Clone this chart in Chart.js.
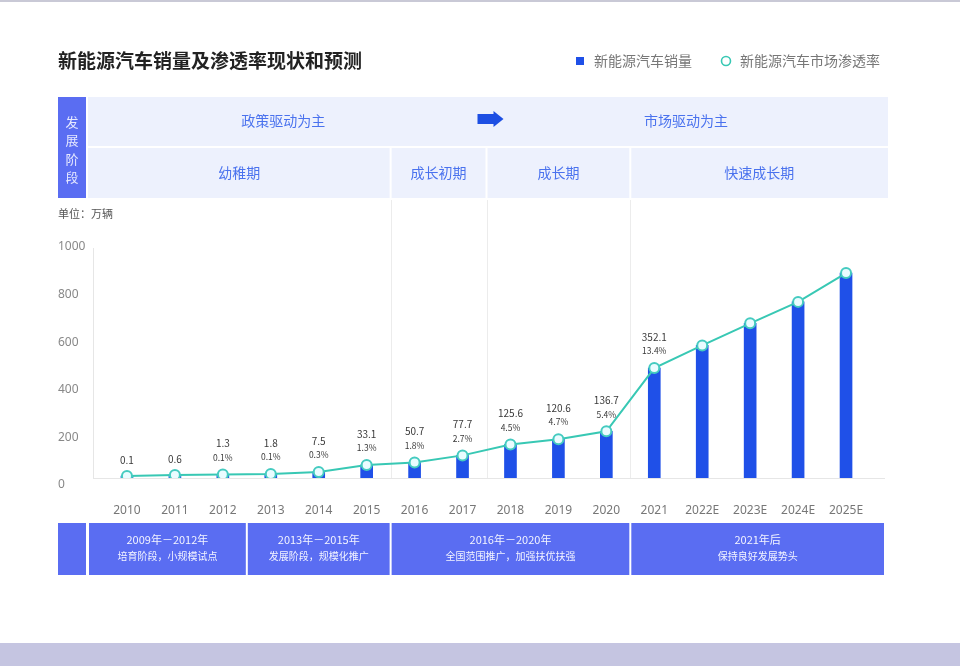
<!DOCTYPE html>
<html>
<head>
<meta charset="utf-8">
<script src="https://cdn.jsdelivr.net/npm/chart.js@4.4.1/dist/chart.umd.min.js"></script>
<style>
  html, body { margin:0; padding:0; background:#ffffff; }
  #wrap { position:absolute; left:0; top:0; width:960px; height:666px; background:#ffffff; overflow:hidden; }
  #topline { position:absolute; left:0; top:0; width:960px; height:2px; background:#c9c9d6; }
  #bottomstrip { position:absolute; left:0; top:643px; width:960px; height:23px; background:#c5c5e1; }
  canvas { position:absolute; left:0; top:0; }
</style>
</head>
<body>
<div id="wrap">
  <div id="topline"></div>
  <div id="bottomstrip"></div>
  <canvas id="c" width="960" height="666"></canvas>
</div>
<script>
// ---- data ----
const categories = ['2010','2011','2012','2013','2014','2015','2016','2017','2018','2019','2020','2021','2022E','2023E','2024E','2025E'];
// bar heights as drawn in the picture (axis units)
const barHeights = [8, 13, 15, 17, 25, 55, 65, 95, 141, 163, 196, 462, 557, 650, 740, 861];
// penetration line points, sitting on the bar tops in the picture
const linePoints = [8, 13, 15, 17, 25, 55, 65, 95, 141, 163, 196, 462, 557, 650, 740, 861];
// printed value labels
const salesLabels = ['0.1','0.6','1.3','1.8','7.5','33.1','50.7','77.7','125.6','120.6','136.7','352.1','','','',''];
const penetrationLabels = ['','','0.1%','0.1%','0.3%','1.3%','1.8%','2.7%','4.5%','4.7%','5.4%','13.4%','','','',''];
const yTicks = [0, 200, 400, 600, 800, 1000];

const titleText = '新能源汽车销量及渗透率现状和预测';
const legendNames = ['新能源汽车销量', '新能源汽车市场渗透率'];
const unitText = '单位：万辆';
const sideLabel = ['发','展','阶','段'];
const driverNames = ['政策驱动为主', '市场驱动为主'];
const stageNames = ['幼稚期', '成长初期', '成长期', '快速成长期'];
const stageBreaks = [5.5, 7.5, 10.5];
const phaseYears = ['2009年－2012年', '2013年－2015年', '2016年－2020年', '2021年后'];
const phaseDescs = ['培育阶段，小规模试点', '发展阶段，规模化推广', '全国范围推广，加强扶优扶强', '保持良好发展势头'];
const phaseBreaks = [2.5, 5.5, 10.5];

const FONT = "'Noto Sans CJK SC', 'Noto Sans', sans-serif";
Chart.defaults.font.family = FONT;

const BAR_COLOR = '#1f50e8';
const LINE_COLOR = '#38c8b4';
const BAND_BG = '#edf1fd';
const BAND_TEXT = '#4a72ee';
const DARK_BAND = '#5a6df2';

const deco = {
  id: 'deco',
  beforeDraw(chart) {
    const ctx = chart.ctx, xs = chart.scales.x, ca = chart.chartArea;
    const bx = v => (xs.getPixelForValue(Math.floor(v)) + xs.getPixelForValue(Math.ceil(v))) / 2;
    const L = ca.left - 15, R = ca.right + 18;
    ctx.save();
    // title
    ctx.fillStyle = '#222';
    ctx.font = "bold 19px " + FONT;
    ctx.textBaseline = 'middle';
    ctx.textAlign = 'left';
    ctx.fillText(titleText, 58, 61);
    // legend
    ctx.fillStyle = BAR_COLOR;
    ctx.fillRect(576, 57, 8, 8);
    ctx.font = "14px " + FONT;
    ctx.fillStyle = '#777';
    ctx.fillText(legendNames[0], 594, 61);
    ctx.beginPath();
    ctx.arc(726, 61, 4.5, 0, Math.PI * 2);
    ctx.fillStyle = '#fff';
    ctx.fill();
    ctx.lineWidth = 1.6;
    ctx.strokeStyle = LINE_COLOR;
    ctx.stroke();
    ctx.fillStyle = '#777';
    ctx.fillText(legendNames[1], 740, 61);

    // side label box
    ctx.fillStyle = DARK_BAND;
    ctx.fillRect(58, 97, 28, 101);
    ctx.fillStyle = '#e6e9ff';
    ctx.font = "13px " + FONT;
    ctx.textAlign = 'center';
    sideLabel.forEach((ch, i) => ctx.fillText(ch, 72, 122 + i * 18.3));

    // row 1
    ctx.fillStyle = BAND_BG;
    ctx.fillRect(L, 97, R - L, 49);
    ctx.fillStyle = BAND_TEXT;
    ctx.font = "14px " + FONT;
    const arrowX = bx(7.5) + 4;
    ctx.fillText(driverNames[0], (L + arrowX - 12) / 2, 121);
    ctx.fillText(driverNames[1], 686, 121);
    // arrow
    ctx.fillStyle = '#1d4fe3';
    ctx.beginPath();
    ctx.moveTo(arrowX - 13, 114);
    ctx.lineTo(arrowX + 3, 114);
    ctx.lineTo(arrowX + 3, 111);
    ctx.lineTo(arrowX + 13, 119);
    ctx.lineTo(arrowX + 3, 127);
    ctx.lineTo(arrowX + 3, 124);
    ctx.lineTo(arrowX - 13, 124);
    ctx.closePath();
    ctx.fill();

    // row 2 cells
    const edges = [L, ...stageBreaks.map(bx), R];
    for (let i = 0; i < stageNames.length; i++) {
      const a = edges[i] + (i ? 1 : 0), b = edges[i + 1] - (i < stageNames.length - 1 ? 1 : 0);
      ctx.fillStyle = BAND_BG;
      ctx.fillRect(a, 148, b - a, 50);
      ctx.fillStyle = BAND_TEXT;
      ctx.fillText(stageNames[i], (edges[i] + edges[i + 1]) / 2, 173);
    }
    // separator lines in plot
    ctx.strokeStyle = '#ececec';
    ctx.lineWidth = 1;
    stageBreaks.forEach(v => {
      const x = Math.round(bx(v)) + 0.5;
      ctx.beginPath(); ctx.moveTo(x, 200); ctx.lineTo(x, ca.bottom); ctx.stroke();
    });
    // axis lines
    ctx.strokeStyle = '#e6e6e6';
    ctx.beginPath(); ctx.moveTo(93.5, 248); ctx.lineTo(93.5, ca.bottom); ctx.stroke();
    ctx.beginPath(); ctx.moveTo(93, ca.bottom + 0.5); ctx.lineTo(885, ca.bottom + 0.5); ctx.stroke();

    // unit
    ctx.fillStyle = '#555';
    ctx.font = "11px " + FONT;
    ctx.textAlign = 'left';
    ctx.fillText(unitText, 58, 214);

    // bottom band
    const pEdges = [L, ...phaseBreaks.map(bx), R - 3];
    ctx.fillStyle = DARK_BAND;
    ctx.fillRect(58, 523, 28, 52);
    for (let i = 0; i < phaseYears.length; i++) {
      const a = pEdges[i] + 1, b = pEdges[i + 1] - 1;
      ctx.fillStyle = DARK_BAND;
      ctx.fillRect(a, 523, b - a, 52);
      const cx = (pEdges[i] + pEdges[i + 1]) / 2;
      ctx.fillStyle = '#f3f4ff';
      ctx.textAlign = 'center';
      ctx.font = "11px " + FONT;
      ctx.fillText(phaseYears[i], cx, 540);
      ctx.font = "10px " + FONT;
      ctx.fillText(phaseDescs[i], cx, 556);
    }
    ctx.restore();
  },
  afterDraw(chart) {
    const ctx = chart.ctx;
    const meta = chart.getDatasetMeta(1);
    ctx.save();
    ctx.textAlign = 'center';
    ctx.textBaseline = 'middle';
    ctx.fillStyle = '#3a3a3a';
    meta.data.forEach((pt, i) => {
      const v = salesLabels[i], p = penetrationLabels[i];
      if (v && p) {
        ctx.font = "10px " + FONT;
        ctx.fillText(v, pt.x, pt.y - 31);
        ctx.font = "8.5px " + FONT;
        ctx.fillText(p, pt.x, pt.y - 17);
      } else if (v) {
        ctx.font = "10px " + FONT;
        ctx.fillText(v, pt.x, pt.y - 16);
      }
    });
    ctx.restore();
  }
};

new Chart(document.getElementById('c'), {
  data: {
    labels: categories,
    datasets: [
      {
        type: 'bar',
        label: legendNames[0],
        data: barHeights,
        backgroundColor: BAR_COLOR,
        barThickness: 12,
        order: 2
      },
      {
        type: 'line',
        label: legendNames[1],
        data: linePoints,
        borderColor: LINE_COLOR,
        borderWidth: 2,
        tension: 0,
        pointRadius: 5,
        pointBorderWidth: 2,
        pointBackgroundColor: '#eafcff',
        pointBorderColor: '#45cbc0',
        order: 1
      }
    ]
  },
  options: {
    responsive: false,
    animation: false,
    layout: { padding: { left: 58, right: 90, top: 240, bottom: 148 } },
    plugins: { legend: { display: false }, tooltip: { enabled: false } },
    scales: {
      x: {
        grid: { display: false },
        border: { display: false },
        ticks: { color: '#777', font: { size: 12, family: "'Noto Sans', sans-serif" }, padding: 17, maxRotation: 0, autoSkip: false },
        afterFit: s => { s.height = 40; }
      },
      y: {
        min: 0, max: 1000,
        afterBuildTicks: s => { s.ticks = yTicks.map(v => ({ value: v })); },
        grid: { display: false },
        border: { display: false },
        ticks: { color: '#888', font: { size: 12, family: "'Noto Sans', sans-serif" }, crossAlign: 'far', labelOffset: 7, padding: 0, callback: v => String(v) },
        afterFit: s => { s.width = 45; }
      }
    }
  },
  plugins: [deco]
});
</script>
</body>
</html>
